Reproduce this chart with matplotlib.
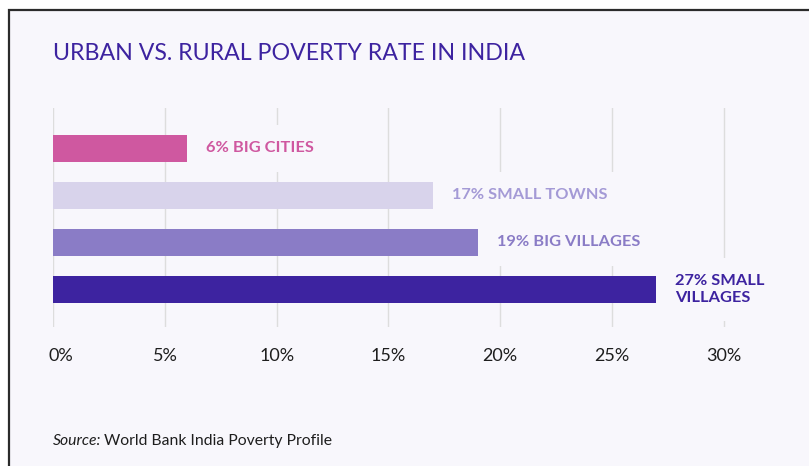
import matplotlib
matplotlib.use("Agg")
import matplotlib.pyplot as plt
import matplotlib.transforms as mtransforms
from matplotlib.patches import Rectangle

# data
categories = ["BIG CITIES", "SMALL TOWNS", "BIG VILLAGES", "SMALL\nVILLAGES"]
rates = [6, 17, 19, 27]
bar_colors = ["#cf58a0", "#d8d3eb", "#8a7cc6", "#3d23a0"]
label_colors = ["#cf58a0", "#a49ad6", "#8a7cc6", "#3d23a0"]
ticks = [0, 5, 10, 15, 20, 25, 30]

W, H = 809, 466
BG = "#f8f7fc"

fig = plt.figure(figsize=(W / 100, H / 100), dpi=100)
fig.patch.set_facecolor("white")

# card background with border on left/top only (cropped screenshot)
card = Rectangle((9 / W, -0.05), 1.2, (H - 10) / H + 0.05, transform=fig.transFigure,
                 facecolor=BG, edgecolor="#2b2b2b", linewidth=1.6, zorder=-5)
fig.patches.append(card)

left, right = 53.3, 53.3 + 32 * 22.34
top, bottom = 108, 327
ax = fig.add_axes([left / W, 1 - bottom / H, (right - left) / W, (bottom - top) / H])
ax.set_facecolor("none")

ypos = list(range(len(rates)))
ax.barh(ypos, rates, height=0.575, color=bar_colors, zorder=3)

for y, v, lab, col in zip(ypos, rates, categories, label_colors):
    ax.annotate(f"{v}% {lab}", xy=(v, y), xytext=(13.5, 0), textcoords="offset points",
                ha="left", va="center", fontsize=11.8, fontweight="bold", color=col,
                family="Lato", linespacing=1.25, zorder=2,
                bbox=dict(boxstyle="square,pad=1.0", facecolor=BG, edgecolor="none"))

ax.set_xlim(0, 32)
ax.set_ylim(3.8, -0.86)
ax.set_xticks(ticks)
ax.set_xticklabels([f"{t}%" for t in ticks], family="Lato", fontsize=13, color="#1e1e1e")
ax.set_yticks([])
ax.tick_params(axis="x", length=0, pad=15)
ax.grid(axis="x", color="#dddddd", linewidth=1.0, zorder=1)
ax.set_axisbelow(True)
for s in ax.spines.values():
    s.set_visible(False)

# first tick label sits a little right of its gridline
first = ax.get_xticklabels()[0]
first.set_transform(first.get_transform() + mtransforms.ScaledTranslation(8 / 100, 0, fig.dpi_scale_trans))

fig.text(53 / W, 1 - 54 / H, "URBAN VS. RURAL POVERTY RATE IN INDIA", family="Lato",
         fontsize=16.7, color="#3d23a0", ha="left", va="center")

src = fig.text(53 / W, 1 - 441 / H, "Source:", family="Lato", style="italic",
               fontsize=11.3, color="#1e1e1e", ha="left", va="center")
fig.canvas.draw()
bb = src.get_window_extent()
fig.text((bb.x1 + 3) / W, 1 - 441 / H, "World Bank India Poverty Profile", family="Lato",
         fontsize=11.3, color="#1e1e1e", ha="left", va="center")

fig.savefig("out.png", dpi=100, facecolor=fig.get_facecolor())
